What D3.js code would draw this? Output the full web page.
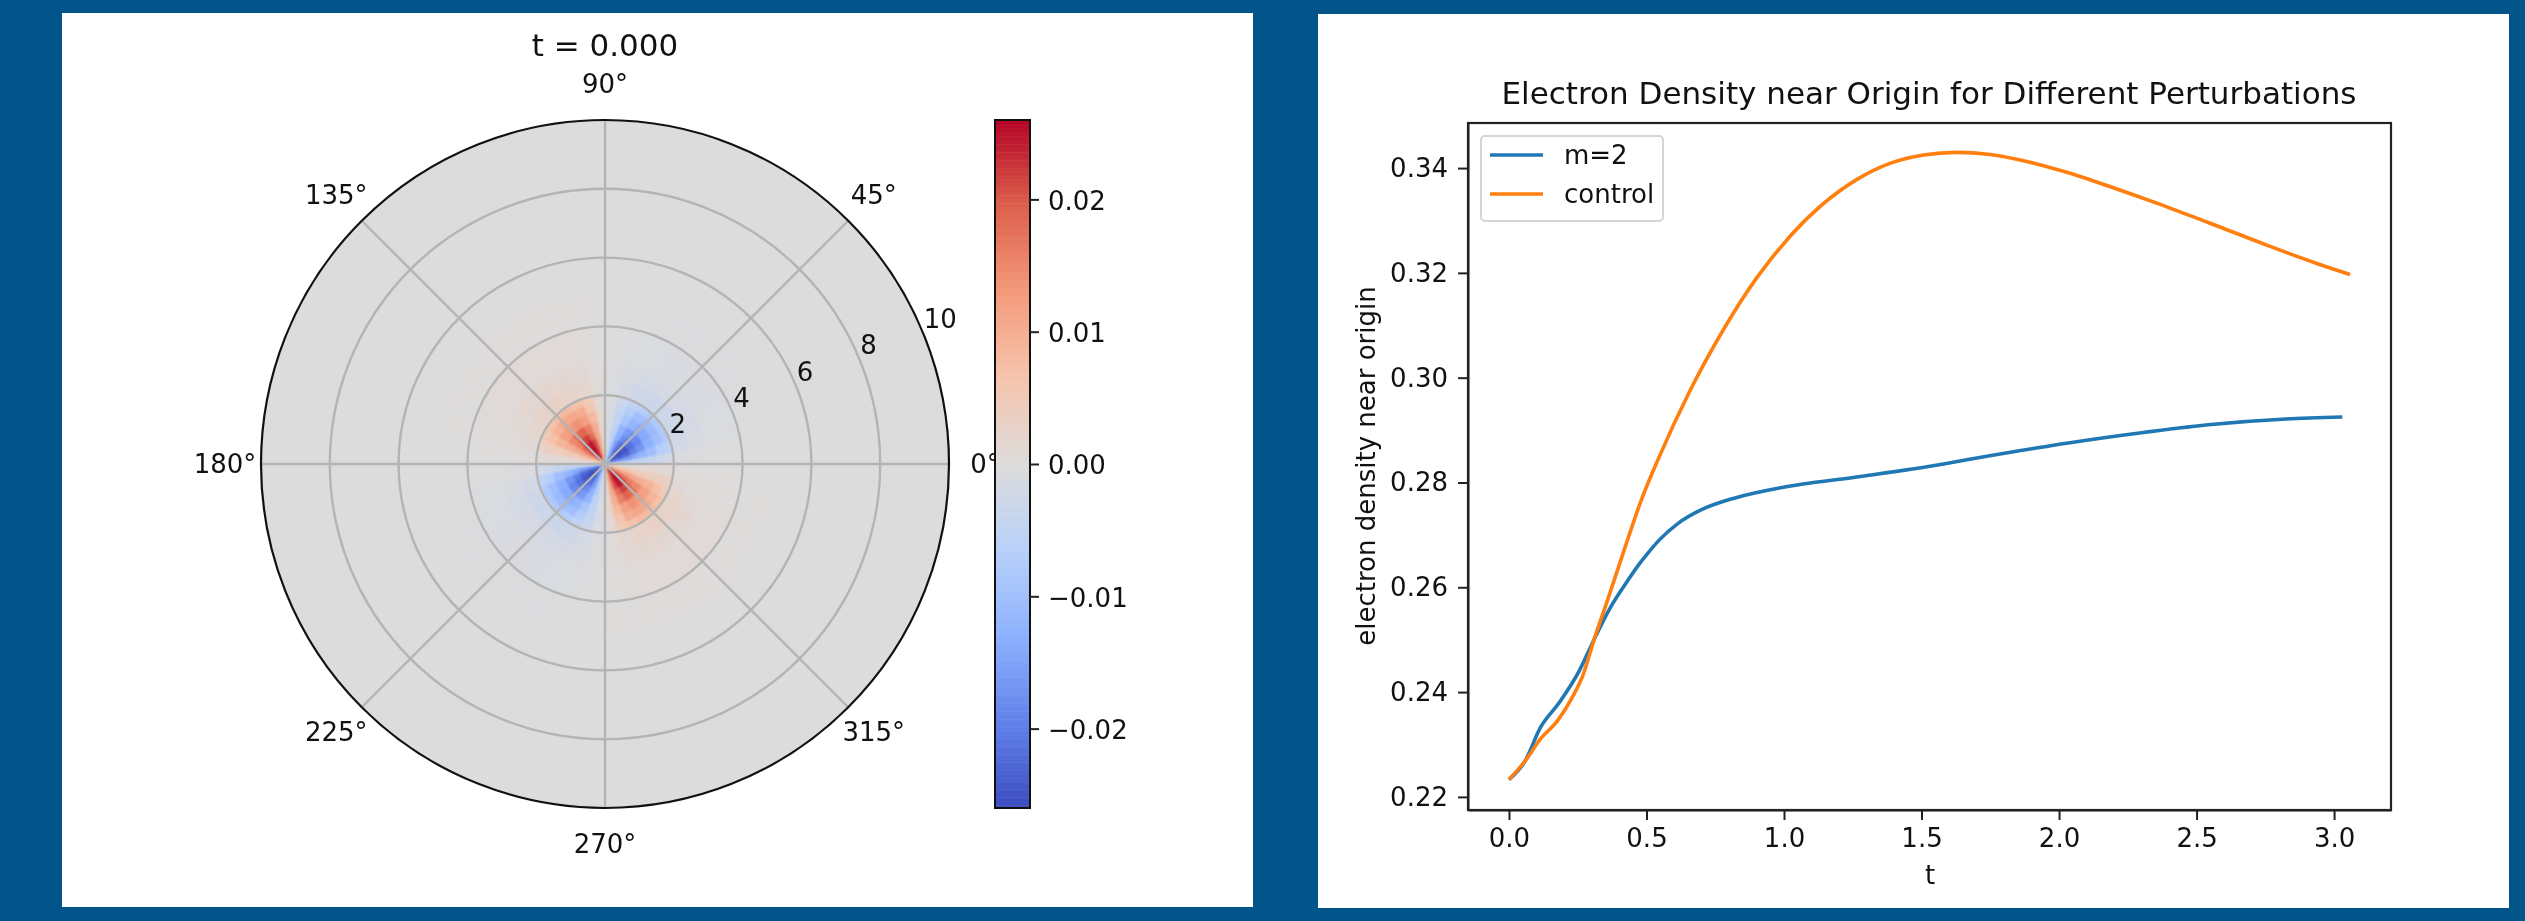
<!DOCTYPE html>
<html>
<head>
<meta charset="utf-8">
<script src="https://cdn.jsdelivr.net/npm/d3@7"></script>
<style>
  html, body { margin: 0; padding: 0; background: #01558b; }
  svg { display: block; font-family: "DejaVu Sans", sans-serif; }
  text { fill: #111; }
  .soft { filter: blur(0.55px); }
  .axis path, .axis line { stroke: #222; stroke-width: 2; }
  .axis text { font-size: 26px; font-family: "DejaVu Sans", sans-serif; fill: #111; }
</style>
</head>
<body>
<div id="chart"></div>
<script>
// left panel: polar field at t = 0, values in units of 0.001
const radiusEdges = [0, 0.2, 0.4, 0.6, 0.8, 1, 1.25, 1.55, 1.8, 2, 2.5, 3, 4, 5];
const thetaEdges = d3.range(0, 190, 10); // one half turn, the other half repeats it
const fieldValues = [
  [-6, -12, -16, -18, -18, -16, -12, -6, -1, 2, 8, 14, 18, 18, 14, 9, 5, 1],
  [-4, -15, -23, -25, -25, -21, -14, -6, -1, 2, 11, 20, 25, 24, 18, 11, 5, 1],
  [-5, -16, -24, -26, -26, -22, -15, -7, -1, 2, 12, 21, 26, 25, 19, 12, 6, 1],
  [-5, -16, -23, -25, -24, -21, -15, -7, -1, 2, 12, 21, 25, 24, 18, 12, 6, 1],
  [-5, -14, -20, -22, -21, -18, -13, -7, -1, 2, 11, 18, 22, 21, 16, 11, 5, 1],
  [-5, -12, -17, -19, -18, -16, -12, -6, -1, 2, 10, 16, 19, 18, 15, 10, 5, 1],
  [-4, -10, -13, -14, -14, -12, -9, -5, -1, 2, 8, 12, 14, 13, 12, 9, 4, 1],
  [-3, -7, -10, -11, -11, -10, -7, -4, -1, 1, 6, 10, 11, 11, 9, 7, 4, 1],
  [-2, -6, -8, -8, -8, -7, -5, -3, -0.5, 1, 5, 7, 8, 8, 7, 5, 3, 0.5],
  [-0.5, -2, -2.5, -3, -3, -3, -2.5, -1.5, -0.5, 0.5, 1.5, 2.5, 3, 3, 2.5, 2, 1, 0.3],
  [-0.3, -1, -1.5, -1.6, -1.6, -1.6, -1.5, -1, -0.3, 0.3, 1, 1.5, 1.6, 1.6, 1.5, 1, 0.6, 0.2],
  [-0.2, -0.6, -0.8, -0.9, -0.9, -0.9, -0.8, -0.6, -0.2, 0.2, 0.5, 0.7, 0.8, 0.8, 0.7, 0.5, 0.3, 0.1],
  [-0.1, -0.2, -0.3, -0.3, -0.3, -0.3, -0.3, -0.2, -0.1, 0.1, 0.2, 0.3, 0.3, 0.3, 0.2, 0.2, 0.1, 0]
];
const radialTicks = [2, 4, 6, 8, 10];
const thetaTicks = [0, 45, 90, 135, 180, 225, 270, 315];
const colorbarTicks = [-0.02, -0.01, 0, 0.01, 0.02];
const coolwarmStops = ["#3b4cc0", "#6282ea", "#8db0fe", "#b8d0f9", "#dddcdc", "#f5c4ac", "#f49a7b", "#dd604c", "#b40426"];
const fieldMax = 0.026;

// right panel: electron density near origin
const m2T = [0, 0.058, 0.115, 0.183, 0.256, 0.31, 0.365, 0.427, 0.476, 0.5, 0.546, 0.615, 0.70, 0.825, 0.998, 1.258, 1.52, 1.78, 2.04, 2.30, 2.565, 2.825, 3.03];
const m2Density = [0.2233, 0.2268, 0.2333, 0.2380, 0.2441, 0.2501, 0.2558, 0.2609, 0.2646, 0.2662, 0.2690, 0.2722, 0.2748, 0.2771, 0.2791, 0.2810, 0.2830, 0.2854, 0.2876, 0.2895, 0.2911, 0.2921, 0.2925];
const controlT = [0, 0.058, 0.115, 0.176, 0.23, 0.268, 0.31, 0.36, 0.415, 0.48, 0.543, 0.658, 0.78, 0.90, 1.022, 1.143, 1.264, 1.385, 1.507, 1.628, 1.749, 1.846, 2.028, 2.21, 2.392, 2.573, 2.755, 2.937, 3.058];
const controlDensity = [0.2233, 0.2268, 0.2311, 0.2345, 0.2390, 0.2431, 0.2501, 0.2578, 0.2665, 0.2765, 0.2845, 0.2975, 0.3092, 0.3190, 0.3270, 0.3332, 0.3378, 0.3409, 0.3425, 0.3430, 0.3426, 0.3417, 0.3392, 0.3360, 0.3326, 0.3290, 0.3253, 0.3218, 0.3197];
const xTicks = [0, 0.5, 1, 1.5, 2, 2.5, 3];
const yTicks = [0.22, 0.24, 0.26, 0.28, 0.30, 0.32, 0.34];
const seriesNames = ["m=2", "control"];
const seriesColors = ["#1f77b4", "#ff7f0e"];

const svg = d3.select("#chart").append("svg")
    .attr("width", 2525)
    .attr("height", 921);

svg.append("rect").attr("x", 62).attr("y", 13).attr("width", 1191).attr("height", 894).attr("fill", "#fff");
svg.append("rect").attr("x", 1318).attr("y", 14).attr("width", 1191).attr("height", 894).attr("fill", "#fff");

// ---- polar panel
const cx = 605, cy = 464, outerR = 344;
const rScale = d3.scaleLinear().domain([0, 10]).range([0, outerR]);
const angleScale = d3.scaleLinear().domain([0, 360]).range([Math.PI / 2, Math.PI / 2 - 2 * Math.PI]);
const colorScale = d3.scaleLinear()
    .domain(d3.range(coolwarmStops.length).map(i => -fieldMax + 2 * fieldMax * i / (coolwarmStops.length - 1)))
    .range(coolwarmStops);

const polar = svg.append("g").attr("transform", "translate(" + cx + "," + cy + ")");

polar.append("circle").attr("r", rScale(10)).attr("fill", colorScale(0));

const arc = d3.arc();
const cells = [];
fieldValues.forEach((row, i) => {
    row.forEach((v, j) => {
        [0, 180].forEach(turn => {
            cells.push({
                r0: radiusEdges[i], r1: radiusEdges[i + 1],
                t0: thetaEdges[j] + turn, t1: thetaEdges[j + 1] + turn,
                value: v / 1000
            });
        });
    });
});

polar.append("g")
    .style("filter", "blur(1px)")
    .selectAll("path")
    .data(cells)
    .join("path")
    .attr("d", d => arc({
        innerRadius: rScale(d.r0),
        outerRadius: rScale(d.r1),
        startAngle: angleScale(d.t1),
        endAngle: angleScale(d.t0)
    }))
    .attr("fill", d => colorScale(d.value))
    .attr("stroke", d => colorScale(d.value))
    .attr("stroke-width", 0.6);

const grid = polar.append("g").attr("class", "soft");

grid.selectAll("circle.ring")
    .data(radialTicks.slice(0, -1))
    .join("circle")
    .attr("class", "ring")
    .attr("r", d => rScale(d))
    .attr("fill", "none")
    .attr("stroke", "#b4b4b4")
    .attr("stroke-width", 2.4);

grid.selectAll("line.spoke")
    .data(thetaTicks)
    .join("line")
    .attr("class", "spoke")
    .attr("x2", d => outerR * Math.cos(d * Math.PI / 180))
    .attr("y2", d => -outerR * Math.sin(d * Math.PI / 180))
    .attr("stroke", "#b4b4b4")
    .attr("stroke-width", 2.4);

grid.append("circle")
    .attr("r", outerR)
    .attr("fill", "none")
    .attr("stroke", "#111")
    .attr("stroke-width", 2.2);

const labels = polar.append("g").attr("class", "soft").style("font-size", "26px");

labels.selectAll("text.theta")
    .data(thetaTicks)
    .join("text")
    .attr("class", "theta")
    .attr("x", d => 380 * Math.cos(d * Math.PI / 180))
    .attr("y", d => -380 * Math.sin(d * Math.PI / 180) + 8.5)
    .attr("text-anchor", "middle")
    .text(d => d + "°");

labels.selectAll("text.radial")
    .data(radialTicks)
    .join("text")
    .attr("class", "radial")
    .attr("x", d => rScale(d) * Math.cos(22.5 * Math.PI / 180) + 1)
    .attr("y", d => -rScale(d) * Math.sin(22.5 * Math.PI / 180) - 4.5)
    .text(d => d);

svg.append("text")
    .attr("class", "soft")
    .attr("x", 605)
    .attr("y", 56)
    .attr("text-anchor", "middle")
    .style("font-size", "31px")
    .text("t = 0.000");

// ---- colorbar
const barScale = d3.scaleLinear().domain([-fieldMax, fieldMax]).range([808, 120]);
const barSteps = d3.range(-fieldMax, fieldMax, fieldMax / 128);

svg.append("g")
    .selectAll("rect")
    .data(barSteps)
    .join("rect")
    .attr("x", 995)
    .attr("width", 35)
    .attr("y", d => barScale(d + fieldMax / 128))
    .attr("height", d => barScale(d) - barScale(d + fieldMax / 128) + 0.5)
    .attr("fill", d => colorScale(d + fieldMax / 256));

svg.append("rect")
    .attr("x", 995).attr("y", 120).attr("width", 35).attr("height", 688)
    .attr("fill", "none").attr("stroke", "#111").attr("stroke-width", 2);

svg.append("g")
    .attr("class", "axis soft")
    .attr("transform", "translate(1030,0)")
    .call(d3.axisRight(barScale).tickValues(colorbarTicks).tickFormat(d3.format(".2f")).tickSize(9).tickSizeOuter(0).tickPadding(9))
    .call(g => g.select(".domain").remove())
    .call(g => g.selectAll("text").attr("dy", "0.38em"));

// ---- line panel
const x = d3.scaleLinear().domain([-0.149, 3.207]).range([1468, 2391]);
const y = d3.scaleLinear().domain([0.2175, 0.3486]).range([810, 123]);

const lineChart = svg.append("g").attr("class", "soft");

lineChart.append("g")
    .attr("class", "axis")
    .attr("transform", "translate(0,810)")
    .call(d3.axisBottom(x).tickValues(xTicks).tickFormat(d3.format(".1f")).tickSize(10).tickSizeOuter(0).tickPadding(9));

lineChart.append("g")
    .attr("class", "axis")
    .attr("transform", "translate(1468,0)")
    .call(d3.axisLeft(y).tickValues(yTicks).tickFormat(d3.format(".2f")).tickSize(10).tickSizeOuter(0).tickPadding(10));

lineChart.append("rect")
    .attr("x", 1468).attr("y", 123).attr("width", 923).attr("height", 687)
    .attr("fill", "none").attr("stroke", "#222").attr("stroke-width", 2.2);

const line = d3.line()
    .x(d => x(d[0]))
    .y(d => y(d[1]))
    .curve(d3.curveMonotoneX);

const series = [d3.zip(m2T, m2Density), d3.zip(controlT, controlDensity)];

lineChart.selectAll("path.series")
    .data(series)
    .join("path")
    .attr("class", "series")
    .attr("d", line)
    .attr("fill", "none")
    .attr("stroke", (d, i) => seriesColors[i])
    .attr("stroke-width", 3.6);

lineChart.append("text")
    .attr("x", 1929).attr("y", 104)
    .attr("text-anchor", "middle")
    .style("font-size", "31px")
    .text("Electron Density near Origin for Different Perturbations");

lineChart.append("text")
    .attr("x", 1930).attr("y", 884)
    .attr("text-anchor", "middle")
    .style("font-size", "26px")
    .text("t");

lineChart.append("text")
    .attr("transform", "translate(1375,466) rotate(-90)")
    .attr("text-anchor", "middle")
    .style("font-size", "26px")
    .text("electron density near origin");

// legend
const legend = lineChart.append("g");

legend.append("rect")
    .attr("x", 1481).attr("y", 136).attr("width", 182).attr("height", 85).attr("rx", 4)
    .attr("fill", "#fff").attr("stroke", "#d5d5d5").attr("stroke-width", 2);

seriesNames.forEach((name, i) => {
    const ly = 155 + i * 39;
    legend.append("line")
        .attr("x1", 1490).attr("x2", 1543)
        .attr("y1", ly).attr("y2", ly)
        .attr("stroke", seriesColors[i]).attr("stroke-width", 3.6);
    legend.append("text")
        .attr("x", 1564).attr("y", ly + 9)
        .style("font-size", "26px")
        .text(name);
});
</script>
</body>
</html>
